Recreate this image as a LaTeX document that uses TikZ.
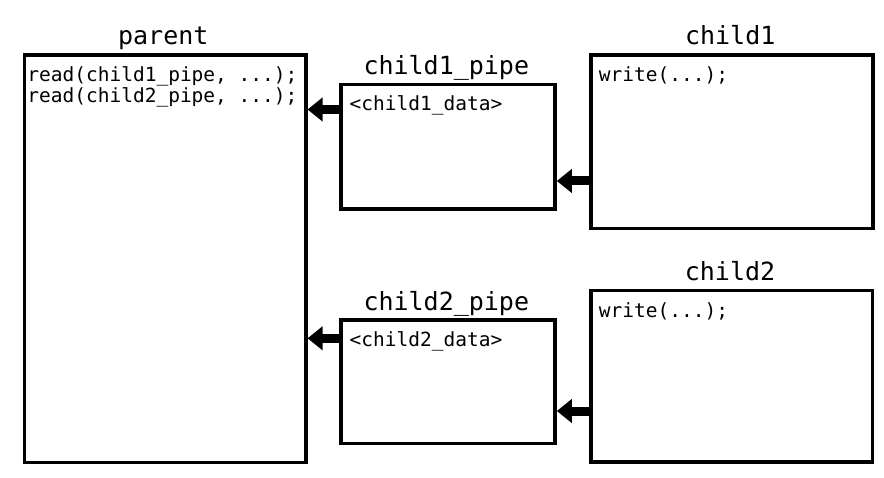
\documentclass[tikz,border=0pt]{standalone}
\usepackage{fontspec}
\newfontfamily\dmono{DejaVu Sans Mono}
\usetikzlibrary{arrows.meta,calc}
\tikzset{
  box/.style={draw=black, line width=3.5pt, rectangle, inner sep=0pt, anchor=north west},
  title/.style={font=\dmono\fontsize{25}{30}\selectfont, inner sep=0pt, anchor=base},
  code/.style={font=\dmono\fontsize{19.5}{21}\selectfont, inner sep=0pt, anchor=base west},
  flow/.style={line width=9pt, -{Triangle[length=15pt,width=23pt]}},
}
\begin{document}
\begin{tikzpicture}[x=1pt, y=-1pt]
\fill[white] (0,0) rectangle (884,478);
\useasboundingbox (0,0) rectangle (884,478);
% boxes
\node[box, minimum width=281.3pt, minimum height=407.4pt] (parent) at (22.7,53.3) {};
\node[box, minimum width=214pt, minimum height=124.6pt] (pipe1) at (339.3,82.7) {};
\node[box, minimum width=281.7pt, minimum height=173.4pt] (child1) at (589.3,53.3) {};
\node[box, minimum width=214pt, minimum height=123.4pt] (pipe2) at (339.3,318.3) {};
\node[box, minimum width=281.4pt, minimum height=171pt] (child2) at (589.3,289) {};
% titles
\node[title] (tparent) at (163.3,45) {parent};
\node[title] (tpipe1) at (446.3,75) {child1\_pipe};
\node[title] (tchild1) at (730.2,45) {child1};
\node[title] (tpipe2) at (446.3,310.5) {child2\_pipe};
\node[title] (tchild2) at (730,280.7) {child2};
% contents
\node[code] (rd1) at (27.2,81.7) {read(child1\_pipe, ...);};
\node[code] (rd2) at (27.2,102.7) {read(child2\_pipe, ...);};
\node[code] (d1) at (349.5,111) {<child1\_data>};
\node[code] (w1) at (598.7,81.7) {write(...);};
\node[code] (d2) at (349.5,346.7) {<child2\_data>};
\node[code] (w2) at (598.7,317.4) {write(...);};
% arrows
\coordinate (a1) at (0,109.5);
\coordinate (a2) at (0,181);
\coordinate (a3) at (0,338.3);
\coordinate (a4) at (0,411);
\draw[flow] (pipe1.west |- a1) -- (parent.east |- a1);
\draw[flow] (child1.west |- a2) -- (pipe1.east |- a2);
\draw[flow] (pipe2.west |- a3) -- (parent.east |- a3);
\draw[flow] (child2.west |- a4) -- (pipe2.east |- a4);
\end{tikzpicture}
\end{document}
